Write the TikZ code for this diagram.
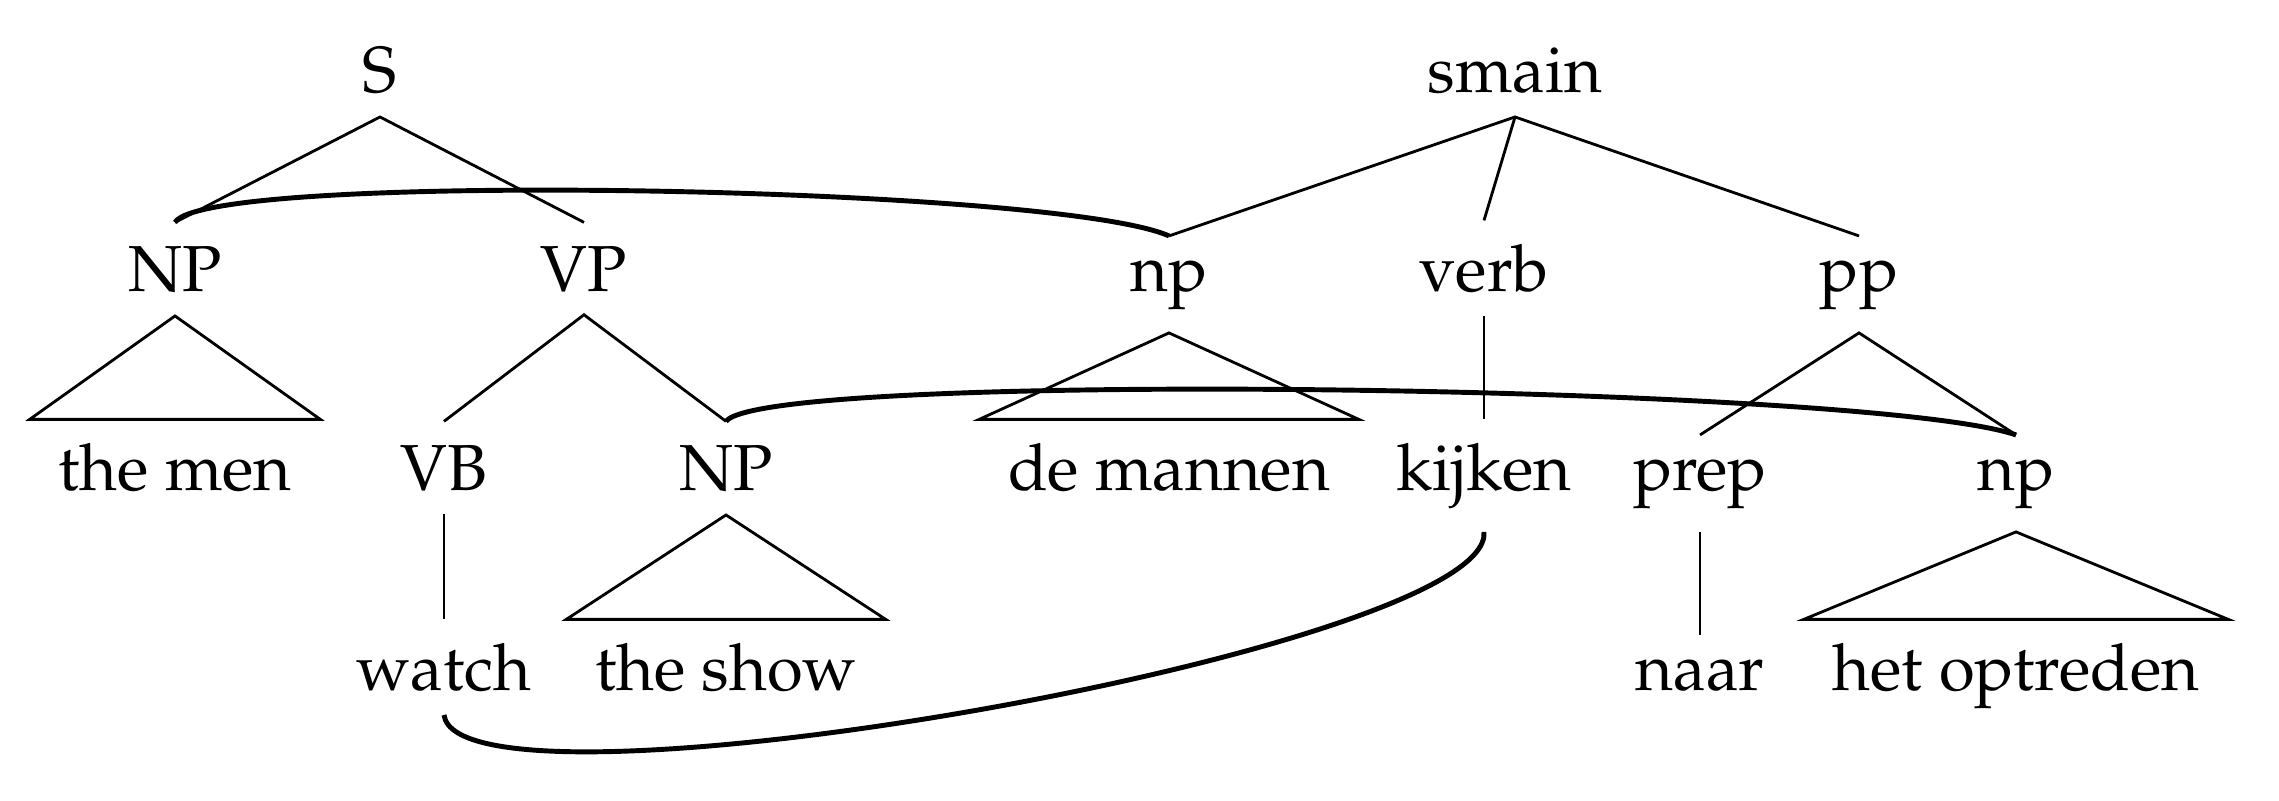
\documentclass[tikz,border=0pt]{standalone}
\usepackage[T1]{fontenc}
\usepackage{mathpazo}
\usetikzlibrary{positioning}

\begin{document}
\begin{tikzpicture}[
  x=0.01cm, y=-0.01cm,
  lbl/.style={anchor=base, inner xsep=8pt, inner ysep=6.5pt, font=\fontsize{18.5}{22}\selectfont},
  edge/.style={line width=0.8pt},
  link/.style={line width=1.4pt}
]
\useasboundingbox (0,0) rectangle (2279,800);

% English tree
\node[lbl] (S) at (380,92) {S};
\node[lbl] (NPa) at (175,291) {NP};
\node[lbl] (VP) at (584,291) {VP};
\node[lbl] (themen) at (175,490) {the men};
\node[lbl] (VB) at (444,490) {VB};
\node[lbl] (NPb) at (726,490) {NP};
\node[lbl] (watch) at (444,690) {watch};
\node[lbl] (theshow) at (726,690) {the show};

% Dutch tree
\node[lbl] (smain) at (1515,92) {smain};
\node[lbl] (npa) at (1169,291) {np};
\node[lbl] (verb) at (1484,291) {verb};
\node[lbl] (pp) at (1859,291) {pp};
\node[lbl] (demannen) at (1169,490) {de mannen};
\node[lbl] (kijken) at (1484,490) {kijken};
\node[lbl] (prep) at (1700,490) {prep};
\node[lbl] (npb) at (2016,490) {np};
\node[lbl] (naar) at (1700,690) {naar};
\node[lbl] (hetoptreden) at (2016,690) {het optreden};

% branches
\draw[edge] (NPa.north) -- (S.south) -- (VP.north);
\draw[edge] (NPa.south) -- (themen.north west) -- (themen.north east) -- cycle;
\draw[edge] (VB.north) -- (VP.south) -- (NPb.north);
\draw[edge] (VB.south) -- (watch.north);
\draw[edge] (NPb.south) -- (theshow.north west) -- (theshow.north east) -- cycle;

\draw[edge] (npa.north) -- (smain.south) -- (pp.north);
\draw[edge] (smain.south) -- (verb.north);
\draw[edge] (npa.south) -- (demannen.north west) -- (demannen.north east) -- cycle;
\draw[edge] (verb.south) -- (kijken.north);
\draw[edge] (prep.north) -- (pp.south) -- (npb.north);
\draw[edge] (prep.south) -- (naar.north);
\draw[edge] (npb.south) -- (hetoptreden.north west) -- (hetoptreden.north east) -- cycle;

% alignment links
\draw[link] (NPa.north) .. controls +(30,-52) and +(-113,-50) .. (npa.north);
\draw[link] (NPb.north) .. controls +(39,-52) and +(-147,-50) .. (npb.north);
\draw[link] (watch.south) .. controls +(15,115) and +(10,118) .. (kijken.south);

\end{tikzpicture}
\end{document}
